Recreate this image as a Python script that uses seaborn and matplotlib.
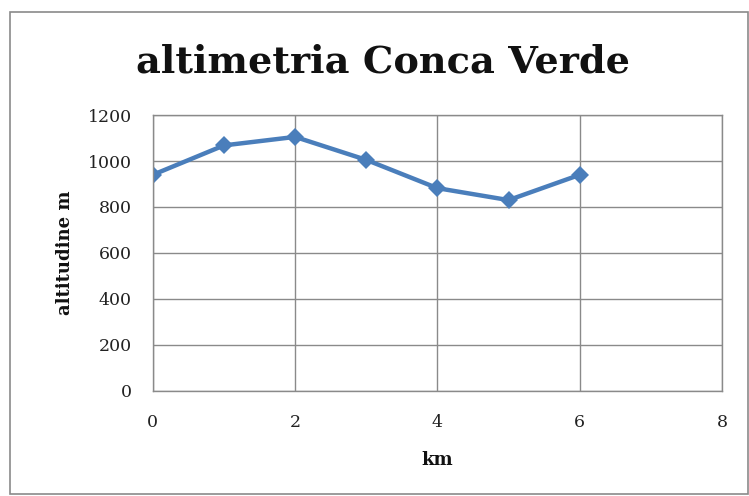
import matplotlib
matplotlib.use("Agg")
import matplotlib.pyplot as plt
import seaborn as sns
import pandas as pd
from matplotlib.patches import Rectangle

# data
km = [0, 1, 2, 3, 4, 5, 6]
altitude = [940, 1068, 1105, 1005, 882, 830, 940]
x_ticks = [0, 2, 4, 6, 8]
y_ticks = [0, 200, 400, 600, 800, 1000, 1200]

df = pd.DataFrame({"km": km, "altitudine": altitude})

sns.set_style("white")
plt.rcParams['font.family'] = ['DejaVu Serif']

fig = plt.figure(figsize=(7.49, 4.96), dpi=100)
ax = fig.add_axes([0.204, 0.212, 0.76, 0.556])

sns.lineplot(data=df, x="km", y="altitudine", ax=ax, color="#4a7ebb",
             linewidth=3.2, marker="D", markersize=9, markeredgewidth=0)

ax.set_xlim(0, 8)
ax.set_ylim(0, 1200)
ax.set_xticks(x_ticks)
ax.set_yticks(y_ticks)
ax.grid(True, color="#8a8a8a", linewidth=1)
for s in ax.spines.values():
    s.set_color("#8a8a8a")
    s.set_linewidth(1)
ax.tick_params(axis="x", length=0, labelsize=12.5, pad=17, labelcolor="#222222")
ax.tick_params(axis="y", length=0, labelsize=12.5, pad=15, labelcolor="#222222")
ax.set_xlabel("km", fontsize=13, fontweight="bold", labelpad=14, color="#111111")
ax.set_ylabel("altitudine m", fontsize=13, fontweight="bold", labelpad=10, color="#111111")

fig.text(0.512, 0.875, "altimetria Conca Verde", ha="center", va="center",
         fontsize=27.5, fontweight="bold", color="#111111")

# outer chart border
fig.patches.append(Rectangle((0.013, 0.005), 0.985, 0.97, transform=fig.transFigure,
                             fill=False, edgecolor="#8a8a8a", linewidth=1.2))

fig.savefig("out.png", dpi=100)
